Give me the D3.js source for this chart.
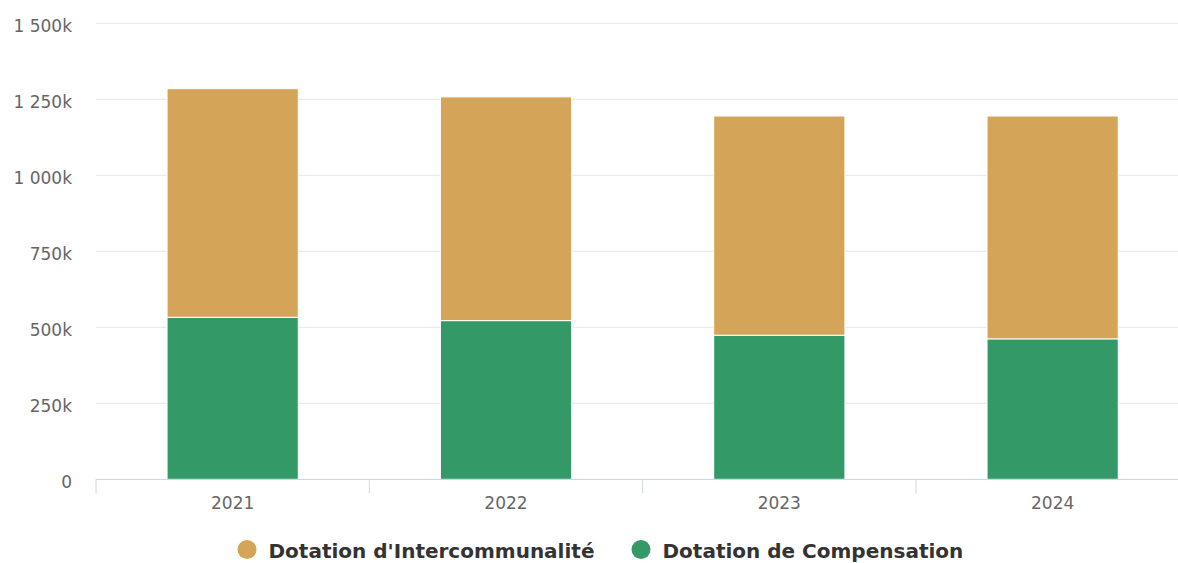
<!DOCTYPE html>
<html>
<head>
<meta charset="utf-8">
<script src="https://cdn.jsdelivr.net/npm/d3@7"></script>
<style>
  html, body { margin: 0; padding: 0; background: #fff; }
  svg { display: block; font-family: "DejaVu Sans", Verdana, sans-serif; }
</style>
</head>
<body>
<svg id="chart" width="1178" height="563"></svg>
<script>
// ---- data (values in thousands) ----
const categories = ["2021", "2022", "2023", "2024"];
const seriesNames = ["Dotation d'Intercommunalité", "Dotation de Compensation"];
const compensation = [533, 522, 474, 462];
const intercommunalite = [752, 736, 721, 733];
const yTicks = [0, 250, 500, 750, 1000, 1250, 1500];
const yTickLabels = ["0", "250k", "500k", "750k", "1 000k", "1 250k", "1 500k"];
const colors = { "Dotation d'Intercommunalité": "#d4a558", "Dotation de Compensation": "#339966" };

const svg = d3.select("#chart");
const W = 1178, H = 563;
const plotLeft = 96, plotRight = 1189.3, plotTop = 23.3, plotBottom = 479.3;

const x = d3.scaleBand().domain(categories).range([plotLeft, plotRight])
  .paddingInner(0.52).paddingOuter(0.26);
const y = d3.scaleLinear().domain([0, 1500]).range([plotBottom, plotTop]);

const rows = categories.map((c, i) => ({
  cat: c,
  "Dotation de Compensation": compensation[i],
  "Dotation d'Intercommunalité": intercommunalite[i]
}));
// stack: compensation at bottom
const stack = d3.stack().keys(["Dotation de Compensation", "Dotation d'Intercommunalité"]);
const stacked = stack(rows);

// gridlines
svg.append("g").selectAll("line").data(yTicks).join("line")
  .attr("x1", plotLeft).attr("x2", W)
  .attr("y1", d => y(d)).attr("y2", d => y(d))
  .attr("stroke", "#e6e6e6").attr("stroke-width", 1);

// y labels
svg.append("g").selectAll("text").data(yTicks).join("text")
  .attr("x", 72).attr("y", d => y(d) + 8.7)
  .attr("text-anchor", "end")
  .attr("font-size", 17).attr("fill", "#666666")
  .text((d, i) => yTickLabels[i]);

// bars
svg.append("g").selectAll("g").data(stacked).join("g")
  .attr("fill", d => colors[d.key])
  .selectAll("rect").data(d => d).join("rect")
  .attr("x", d => x(d.data.cat))
  .attr("width", x.bandwidth())
  .attr("y", d => y(d[1]))
  .attr("height", d => y(d[0]) - y(d[1]))
  .attr("stroke", "#ffffff").attr("stroke-width", 1);

// x axis line
svg.append("line")
  .attr("x1", plotLeft).attr("x2", W)
  .attr("y1", plotBottom + 0.2).attr("y2", plotBottom + 0.2)
  .attr("stroke", "#ccd6eb").attr("stroke-width", 1);

// x ticks at band boundaries
const step = x.step();
const tickPos = categories.map((c, i) => plotLeft + i * step);
svg.append("g").selectAll("line").data(tickPos).join("line")
  .attr("x1", d => d).attr("x2", d => d)
  .attr("y1", plotBottom).attr("y2", plotBottom + 14)
  .attr("stroke", "#ccd6eb").attr("stroke-width", 1);

// x labels
svg.append("g").selectAll("text").data(categories).join("text")
  .attr("x", d => x(d) + x.bandwidth() / 2)
  .attr("y", 509.3)
  .attr("text-anchor", "middle")
  .attr("font-size", 17).attr("fill", "#666666")
  .text(d => d);

// legend
const legendItems = [
  { name: seriesNames[0], cx: 247, tx: 268.5 },
  { name: seriesNames[1], cx: 641, tx: 662.5 }
];
const lg = svg.append("g");
lg.selectAll("circle").data(legendItems).join("circle")
  .attr("cx", d => d.cx).attr("cy", 549.5).attr("r", 9.5)
  .attr("fill", d => colors[d.name]);
lg.selectAll("text").data(legendItems).join("text")
  .attr("x", d => d.tx).attr("y", 558)
  .attr("font-size", 20).attr("font-weight", "bold").attr("fill", "#333333")
  .text(d => d.name);
</script>
</body>
</html>
